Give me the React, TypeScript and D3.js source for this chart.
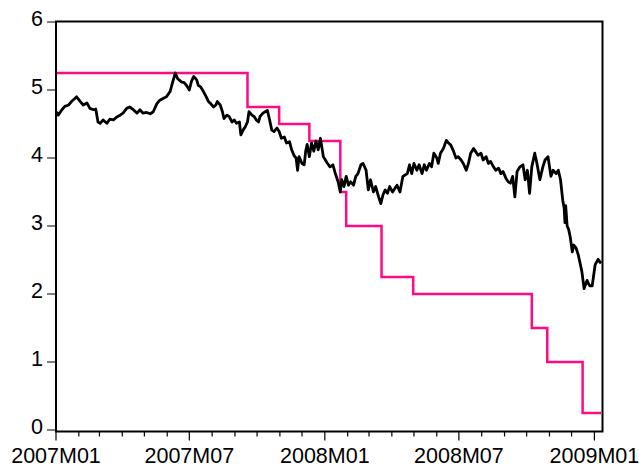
import React from "react";
import * as d3 from "d3";

const tenYear: [string, number][] = [
  ["2007-01-02",4.68],["2007-01-04",4.63],["2007-01-09",4.71],["2007-01-13",4.76],["2007-01-18",4.78],["2007-01-22",4.83],["2007-01-27",4.88],["2007-01-29",4.90],
  ["2007-02-03",4.83],["2007-02-07",4.78],["2007-02-12",4.81],["2007-02-16",4.73],["2007-02-21",4.71],["2007-02-24",4.72],["2007-02-27",4.53],
  ["2007-03-02",4.51],["2007-03-06",4.56],["2007-03-11",4.51],["2007-03-15",4.57],["2007-03-20",4.56],["2007-03-24",4.60],["2007-03-29",4.63],
  ["2007-04-02",4.66],["2007-04-07",4.73],["2007-04-11",4.75],["2007-04-16",4.71],["2007-04-21",4.66],["2007-04-25",4.71],["2007-04-29",4.66],
  ["2007-05-04",4.67],["2007-05-09",4.65],["2007-05-13",4.68],["2007-05-18",4.80],["2007-05-22",4.85],["2007-05-27",4.88],["2007-05-31",4.90],
  ["2007-06-05",4.98],["2007-06-08",5.10],["2007-06-12",5.25],["2007-06-15",5.17],["2007-06-20",5.12],["2007-06-24",5.11],["2007-06-27",5.07],
  ["2007-07-01",5.00],["2007-07-04",5.13],["2007-07-07",5.20],["2007-07-11",5.15],["2007-07-13",5.07],["2007-07-16",5.05],["2007-07-20",4.98],["2007-07-24",4.90],["2007-07-27",4.83],["2007-07-30",4.80],
  ["2007-08-03",4.75],["2007-08-06",4.78],["2007-08-08",4.83],["2007-08-12",4.78],["2007-08-15",4.68],["2007-08-17",4.58],["2007-08-21",4.63],["2007-08-24",4.61],["2007-08-28",4.53],["2007-08-31",4.56],
  ["2007-09-03",4.51],["2007-09-07",4.53],["2007-09-09",4.34],["2007-09-12",4.41],["2007-09-15",4.46],["2007-09-18",4.53],["2007-09-20",4.68],["2007-09-24",4.63],["2007-09-27",4.61],["2007-09-30",4.56],
  ["2007-10-03",4.53],["2007-10-05",4.61],["2007-10-09",4.66],["2007-10-12",4.68],["2007-10-15",4.70],["2007-10-18",4.56],["2007-10-21",4.41],["2007-10-24",4.39],["2007-10-28",4.44],["2007-10-31",4.39],
  ["2007-11-03",4.29],["2007-11-07",4.31],["2007-11-10",4.22],["2007-11-14",4.24],["2007-11-17",4.12],["2007-11-20",4.04],["2007-11-23",4.00],["2007-11-25",3.82],["2007-11-27",4.02],
  ["2007-12-01",3.92],["2007-12-04",3.90],["2007-12-06",4.10],["2007-12-08",4.20],["2007-12-11",4.02],["2007-12-14",4.22],["2007-12-17",4.10],["2007-12-20",4.25],["2007-12-23",4.12],["2007-12-26",4.29],["2007-12-30",4.02],
  ["2008-01-04",3.93],["2008-01-08",3.87],["2008-01-12",3.90],["2008-01-15",3.78],["2008-01-19",3.65],["2008-01-22",3.50],["2008-01-24",3.68],["2008-01-27",3.58],["2008-01-30",3.73],
  ["2008-02-02",3.60],["2008-02-05",3.65],["2008-02-09",3.60],["2008-02-12",3.73],["2008-02-15",3.77],["2008-02-19",3.90],["2008-02-22",3.92],["2008-02-26",3.82],["2008-02-29",3.53],
  ["2008-03-03",3.68],["2008-03-07",3.50],["2008-03-10",3.58],["2008-03-14",3.43],["2008-03-17",3.33],["2008-03-20",3.46],["2008-03-23",3.53],["2008-03-26",3.48],["2008-03-29",3.58],
  ["2008-04-02",3.50],["2008-04-05",3.55],["2008-04-08",3.60],["2008-04-12",3.50],["2008-04-16",3.73],["2008-04-19",3.75],["2008-04-22",3.77],["2008-04-25",3.90],["2008-04-28",3.77],
  ["2008-05-01",3.92],["2008-05-05",3.82],["2008-05-08",3.90],["2008-05-12",3.77],["2008-05-15",3.90],["2008-05-18",3.82],["2008-05-22",3.92],["2008-05-25",3.87],["2008-05-28",4.07],
  ["2008-06-01",4.00],["2008-06-03",3.92],["2008-06-06",4.07],["2008-06-10",4.14],["2008-06-14",4.26],["2008-06-17",4.22],["2008-06-20",4.19],["2008-06-23",4.12],["2008-06-27",4.00],["2008-06-30",4.02],
  ["2008-07-04",3.97],["2008-07-07",3.92],["2008-07-11",3.82],["2008-07-14",3.92],["2008-07-17",4.07],["2008-07-21",4.14],["2008-07-24",4.09],["2008-07-27",4.04],["2008-07-31",4.07],
  ["2008-08-03",3.97],["2008-08-07",4.02],["2008-08-10",3.92],["2008-08-13",3.95],["2008-08-17",3.87],["2008-08-20",3.82],["2008-08-24",3.85],["2008-08-27",3.77],["2008-08-30",3.80],
  ["2008-09-03",3.70],["2008-09-06",3.65],["2008-09-09",3.63],["2008-09-12",3.73],["2008-09-15",3.43],["2008-09-18",3.80],["2008-09-22",3.87],["2008-09-26",3.90],["2008-09-29",3.68],
  ["2008-10-02",3.82],["2008-10-05",3.48],["2008-10-08",3.87],["2008-10-12",4.07],["2008-10-15",3.92],["2008-10-19",3.68],["2008-10-23",3.87],["2008-10-26",3.97],["2008-10-30",4.02],
  ["2008-11-03",3.73],["2008-11-06",3.82],["2008-11-10",3.77],["2008-11-13",3.82],["2008-11-16",3.68],["2008-11-19",3.38],["2008-11-21",3.26],["2008-11-22",3.05],["2008-11-23",3.30],["2008-11-25",3.00],["2008-11-27",2.95],["2008-11-29",2.85],
  ["2008-12-02",2.62],["2008-12-04",2.72],["2008-12-07",2.68],["2008-12-10",2.58],["2008-12-15",2.33],["2008-12-18",2.08],["2008-12-22",2.20],["2008-12-24",2.15],["2008-12-26",2.12],["2008-12-29",2.12],
  ["2009-01-02",2.43],["2009-01-06",2.51],["2009-01-10",2.45],
];

const fedFunds: [string, number][] = [
  ["2007-01-02",5.25],["2007-09-18",4.75],["2007-10-31",4.5],["2007-12-11",4.25],
  ["2008-01-22",3.5],["2008-01-30",3.0],["2008-03-18",2.25],["2008-04-30",2.0],
  ["2008-10-08",1.5],["2008-10-29",1.0],["2008-12-16",0.25],["2009-01-10",0.25],
];

const xTickDates = ["2007-01-01","2007-07-01","2008-01-01","2008-07-01","2009-01-01"];
const xTickLabels = ["2007M01","2007M07","2008M01","2008M07","2009M01"];
const yTicks = [0, 1, 2, 3, 4, 5, 6];
const xDomain = ["2007-01-01", "2009-01-12"];

const parse = d3.timeParse("%Y-%m-%d");

export default function App() {
  const W = 639, H = 468;
  const left = 56, right = 602.5, top = 21.5, bottom = 431.5;
  const x = d3.scaleTime().domain(xDomain.map((s) => parse(s) as Date)).range([left, right]);
  const y = d3.scaleLinear().domain([0, 6]).range([430, 22]);

  const line = d3.line<[string, number]>()
    .x((d) => x(parse(d[0]) as Date))
    .y((d) => y(d[1]));
  const step = d3.line<[string, number]>()
    .x((d) => x(parse(d[0]) as Date))
    .y((d) => y(d[1]))
    .curve(d3.curveStepAfter);

  const months = d3.timeMonth.range(parse(xDomain[0]) as Date, parse(xDomain[1]) as Date);
  const font = "'Liberation Sans', Arial, sans-serif";

  return (
    <svg width={W} height={H} style={{ position: "absolute", left: 0, top: 0, background: "#fff" }}>
      <rect x={0} y={0} width={W} height={H} fill="#fff" />
      <path d={step(fedFunds) || ""} fill="none" stroke="#ff0a85" strokeWidth={2.5} strokeLinejoin="miter" />
      <path d={line(tenYear) || ""} fill="none" stroke="#000" strokeWidth={2.8} strokeLinejoin="round" />
      <rect x={left} y={top} width={right - left} height={bottom - top} fill="none" stroke="#000" strokeWidth={2} />
      {yTicks.map((t) => (
        <g key={t}>
          <line x1={left - 9} x2={left} y1={y(t)} y2={y(t)} stroke="#000" strokeWidth={1} />
          <text x={43} y={y(t) + 4} textAnchor="end" fontFamily={font} fontSize={21.5} fill="#000">{t}</text>
        </g>
      ))}
      {months.map((m, i) => {
        const major = m.getMonth() % 6 === 0;
        return (
          <line key={i} x1={x(m)} x2={x(m)} y1={bottom} y2={bottom + (major ? 9 : 5)} stroke="#000" strokeWidth={1.2} />
        );
      })}
      {xTickDates.map((d, i) => (
        <text key={d} x={x(parse(d) as Date)} y={462.5} textAnchor="middle" fontFamily={font} fontSize={21.5} fill="#000">
          {xTickLabels[i]}
        </text>
      ))}
    </svg>
  );
}
